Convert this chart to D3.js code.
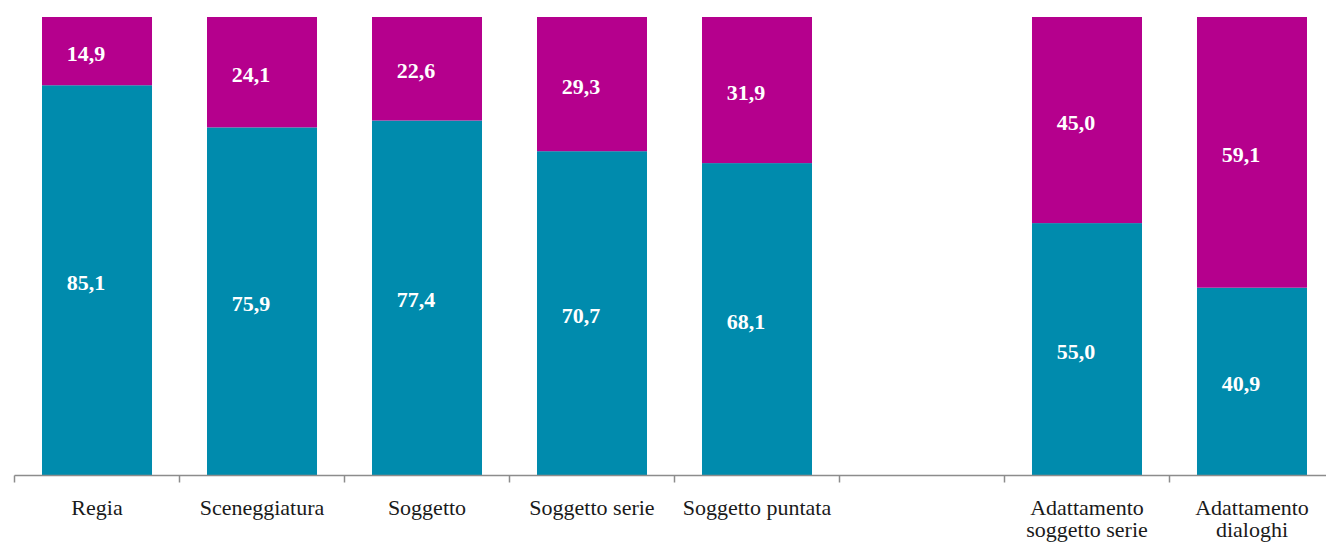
<!DOCTYPE html>
<html>
<head>
<meta charset="utf-8">
<script src="https://cdn.jsdelivr.net/npm/d3@7"></script>
<style>
  html, body { margin: 0; padding: 0; background: #fff; }
  svg { display: block; }
</style>
</head>
<body>
<div id="chart"></div>
<script>
// categories (the empty one is the gap in the original chart)
const categories = ["Regia", "Sceneggiatura", "Soggetto", "Soggetto serie", "Soggetto puntata", "", "Adattamento soggetto serie", "Adattamento dialoghi"];
const categoryLines = [["Regia"], ["Sceneggiatura"], ["Soggetto"], ["Soggetto serie"], ["Soggetto puntata"], [], ["Adattamento", "soggetto serie"], ["Adattamento", "dialoghi"]];
const blueValues = [85.1, 75.9, 77.4, 70.7, 68.1, null, 55.0, 40.9];
const magentaValues = [14.9, 24.1, 22.6, 29.3, 31.9, null, 45.0, 59.1];

const width = 1326;
const height = 543;
const margin = { top: 17, left: 14.5, bottom: 68 };
const bandW = 165;
const innerHeight = height - margin.top - margin.bottom;

const svg = d3.select("#chart")
    .append("svg")
    .attr("width", width)
    .attr("height", height);

const x = d3.scaleBand()
    .domain(categories.map((c, i) => i))
    .range([margin.left, margin.left + bandW * categories.length])
    .paddingInner(0.3333)
    .paddingOuter(0.1667);

const y = d3.scaleLinear()
    .domain([0, 100])
    .range([margin.top + innerHeight, margin.top]);

const rows = categories.map((c, i) => ({ i, blue: blueValues[i], magenta: magentaValues[i] }))
    .filter(d => d.blue != null);

const fmt = v => d3.format(".1f")(v).replace(".", ",");
const labelOffset = -11;

// blue segment
svg.selectAll("rect.blue")
    .data(rows)
    .join("rect")
    .attr("class", "blue")
    .attr("x", d => x(d.i))
    .attr("width", x.bandwidth())
    .attr("y", d => y(d.blue))
    .attr("height", d => y(0) - y(d.blue))
    .attr("fill", "#008BAD");

// magenta segment on top
svg.selectAll("rect.magenta")
    .data(rows)
    .join("rect")
    .attr("class", "magenta")
    .attr("x", d => x(d.i))
    .attr("width", x.bandwidth())
    .attr("y", d => y(d.blue + d.magenta))
    .attr("height", d => y(d.blue) - y(d.blue + d.magenta))
    .attr("fill", "#B5008D");

const labelStyle = sel => sel
    .attr("text-anchor", "middle")
    .attr("dominant-baseline", "central")
    .attr("fill", "#fff")
    .attr("font-family", "'Liberation Serif', serif")
    .attr("font-weight", "bold")
    .attr("font-size", "22px");

svg.selectAll("text.lblue")
    .data(rows)
    .join("text")
    .attr("class", "lblue")
    .attr("x", d => x(d.i) + x.bandwidth() / 2 + labelOffset)
    .attr("y", d => (y(0) + y(d.blue)) / 2 + 2)
    .text(d => fmt(d.blue))
    .call(labelStyle);

svg.selectAll("text.lmag")
    .data(rows)
    .join("text")
    .attr("class", "lmag")
    .attr("x", d => x(d.i) + x.bandwidth() / 2 + labelOffset)
    .attr("y", d => (y(d.blue) + y(d.blue + d.magenta)) / 2 + 2)
    .text(d => fmt(d.magenta))
    .call(labelStyle);

// axis: line + tick marks at band boundaries
const axisY = y(0) + 0.5;
const axis = svg.append("g");
axis.append("line")
    .attr("x1", margin.left)
    .attr("x2", margin.left + bandW * categories.length)
    .attr("y1", axisY)
    .attr("y2", axisY)
    .attr("stroke", "#8c8c8c")
    .attr("stroke-width", 1.5);

axis.selectAll("line.tick")
    .data(d3.range(categories.length + 1))
    .join("line")
    .attr("class", "tick")
    .attr("x1", i => margin.left + i * bandW)
    .attr("x2", i => margin.left + i * bandW)
    .attr("y1", axisY)
    .attr("y2", axisY + 7)
    .attr("stroke", "#8c8c8c")
    .attr("stroke-width", 1.5);

const catText = axis.selectAll("text.cat")
    .data(categoryLines.map((lines, i) => ({ lines, i })))
    .join("text")
    .attr("class", "cat")
    .attr("x", d => x(d.i) + x.bandwidth() / 2)
    .attr("y", 515)
    .attr("text-anchor", "middle")
    .attr("fill", "#1a1a1a")
    .attr("font-family", "'Liberation Serif', serif")
    .attr("font-size", "22px");

catText.selectAll("tspan")
    .data(d => d.lines.map(l => ({ l, cx: x(d.i) + x.bandwidth() / 2 })))
    .join("tspan")
    .attr("x", t => t.cx)
    .attr("dy", (t, j) => j === 0 ? 0 : 22)
    .text(t => t.l);
</script>
</body>
</html>
